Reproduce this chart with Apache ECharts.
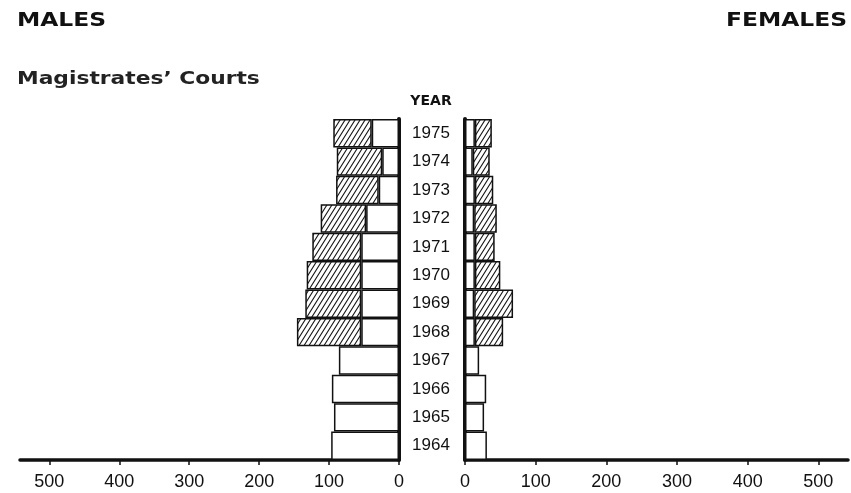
<!DOCTYPE html>
<html>
<head>
<meta charset="utf-8">
<script src="https://cdn.jsdelivr.net/npm/echarts@6/dist/echarts.min.js"></script>
<style>
html,body{margin:0;padding:0;background:#fff;}
#chart{width:851px;height:493px;}
</style>
</head>
<body>
<div id="chart"></div>
<script>
// Categories (top to bottom)
const years = ['1975','1974','1973','1972','1971','1970','1969','1968','1967','1966','1965','1964'];
// Males: plain (unhatched, inner) part and hatched (outer) part
const malesPlain   = [39, 24, 29, 47, 54, 54, 54, 54, 86, 96, 93, 97];
const malesHatched = [55, 65, 61, 65, 70, 78, 80, 92, null, null, null, null];
// Females: plain (inner) part and hatched (outer) part
const femalesPlain   = [14, 11, 14, 13, 14, 14, 13, 14, 20, 30, 27, 31];
const femalesHatched = [24, 24, 26, 32, 28, 36, 55, 40, null, null, null, null];
// Value-axis tick labels
const ticks = [0, 100, 200, 300, 400, 500];
const axisMax = 542;

const ink = '#111';

// "/" hatch tile
function makeHatch() {
  const w = 5, h = 8;
  const c = document.createElement('canvas');
  c.width = w; c.height = h;
  const g = c.getContext('2d');
  g.fillStyle = '#fff';
  g.fillRect(0, 0, w, h);
  g.strokeStyle = ink;
  g.lineWidth = 1.1;
  for (let k = -1; k <= 1; k++) {
    g.beginPath();
    g.moveTo(k * w - w, 2 * h);
    g.lineTo(k * w + 2 * w, -h);
    g.stroke();
  }
  return c;
}
const hatchFill = { image: makeHatch(), repeat: 'repeat' };

const plainStyle = { color: '#fff', borderColor: ink, borderWidth: 1.5 };
const hatchStyle = { color: hatchFill, borderColor: ink, borderWidth: 1.5 };

function valueAxis(gridIndex, inverse) {
  return {
    type: 'value', gridIndex: gridIndex, inverse: inverse,
    min: 0, max: axisMax,
    splitLine: { show: false },
    axisLine: { show: true, lineStyle: { color: ink, width: 3.5 } },
    axisTick: { show: true, customValues: ticks, length: 5, lineStyle: { color: ink, width: 1.5 } },
    axisLabel: { customValues: ticks, margin: 13, color: ink, fontSize: 18, fontFamily: 'Liberation Sans' }
  };
}

const chart = echarts.init(document.getElementById('chart'), null, { renderer: 'canvas' });
chart.setOption({
  backgroundColor: '#fff',
  animation: false,
  grid: [
    { left: 20, right: 452, top: 119, bottom: 33 },
    { left: 465, right: 3, top: 119, bottom: 33 }
  ],
  xAxis: [valueAxis(0, true), valueAxis(1, false)],
  yAxis: [
    {
      type: 'category', gridIndex: 0, data: years, inverse: true, position: 'right',
      axisLine: { show: true, onZero: false, lineStyle: { color: ink, width: 4 } },
      axisTick: { show: false },
      axisLabel: { align: 'center', margin: 32, color: ink, fontSize: 17, fontFamily: 'Liberation Sans' }
    },
    {
      type: 'category', gridIndex: 1, data: years, inverse: true, position: 'left',
      axisLine: { show: true, onZero: false, lineStyle: { color: ink, width: 4 } },
      axisTick: { show: false },
      axisLabel: { show: false }
    }
  ],
  series: [
    { type: 'bar', name: 'Males', xAxisIndex: 0, yAxisIndex: 0, stack: 'm', data: malesPlain,
      barCategoryGap: '0%', itemStyle: plainStyle },
    { type: 'bar', name: 'Males hatched', xAxisIndex: 0, yAxisIndex: 0, stack: 'm', data: malesHatched,
      barCategoryGap: '0%', itemStyle: hatchStyle },
    { type: 'bar', name: 'Females', xAxisIndex: 1, yAxisIndex: 1, stack: 'f', data: femalesPlain,
      barCategoryGap: '0%', itemStyle: plainStyle },
    { type: 'bar', name: 'Females hatched', xAxisIndex: 1, yAxisIndex: 1, stack: 'f', data: femalesHatched,
      barCategoryGap: '0%', itemStyle: hatchStyle }
  ],
  graphic: [
    { type: 'text', x: 17, y: 21, scaleX: 1.23,
      style: { text: 'MALES', font: 'bold 19px "DejaVu Sans"', fill: ink, textAlign: 'left', textVerticalAlign: 'middle' } },
    { type: 'text', x: 847, y: 21, scaleX: 1.23,
      style: { text: 'FEMALES', font: 'bold 19px "DejaVu Sans"', fill: ink, textAlign: 'right', textVerticalAlign: 'middle' } },
    { type: 'text', x: 17, y: 79, scaleX: 1.21,
      style: { text: 'Magistrates\u2019 Courts', font: 'bold 18px "DejaVu Sans"', fill: '#222', textAlign: 'left', textVerticalAlign: 'middle' } },
    { type: 'text', x: 431, y: 101,
      style: { text: 'YEAR', font: 'bold 14px "DejaVu Sans"', fill: ink, textAlign: 'center', textVerticalAlign: 'middle' } }
  ]
});
</script>
</body>
</html>
